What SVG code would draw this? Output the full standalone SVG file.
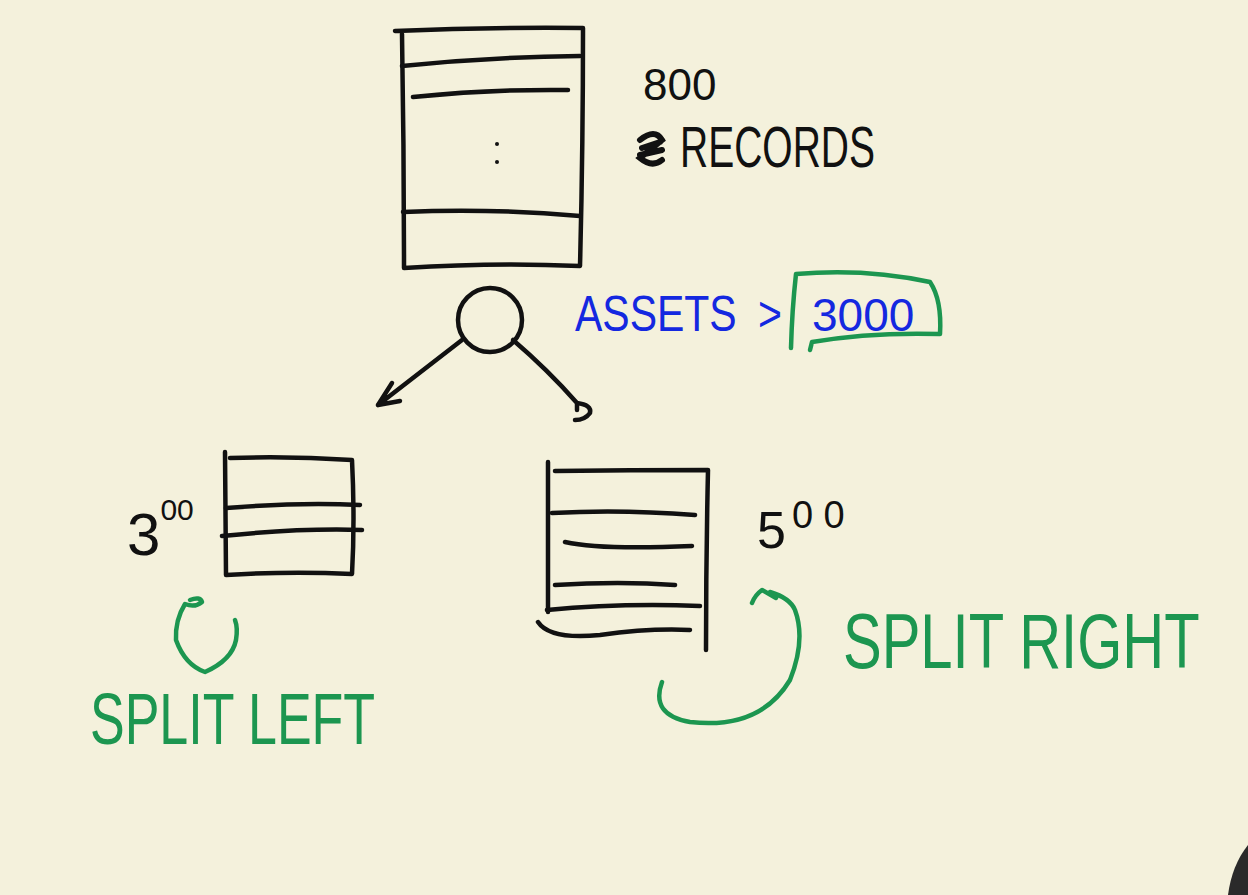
<svg xmlns="http://www.w3.org/2000/svg" width="1248" height="895" viewBox="0 0 1248 895">
<style>
.ink{fill:none;stroke:#111;stroke-width:4.5;stroke-linecap:round;stroke-linejoin:round}
.gink{fill:none;stroke:#1c9650;stroke-width:4.5;stroke-linecap:round;stroke-linejoin:round}
.bk{font-family:"Liberation Sans",Arial,sans-serif;fill:#111}
.bl{font-family:"Liberation Sans",Arial,sans-serif;fill:#1428e0}
.gr{font-family:"Liberation Sans",Arial,sans-serif;fill:#1c9650}
</style>
<rect width="1248" height="895" fill="#f4f1dc"/>
<g id="root-table">
<path class="ink" d="M395 31 Q490 27 583 28 M402 34 Q404 150 404 268 Q495 262 580 266 Q583 150 583 28"/>
<path class="ink" d="M402 66 Q490 57 580 56 M413 97 Q490 89 568 90 M403 212 Q490 208 580 216"/>
<circle cx="497" cy="144" r="2" fill="#111"/>
<circle cx="497" cy="162" r="2" fill="#111"/>
</g>
<g id="root-label">
<text class="bk" x="643" y="100" font-size="44">800</text>
<path d="M640 140 Q655 128 662 140 Q650 150 640 158 Q652 168 662 160 M642 148 L660 142 M640 155 L662 150" fill="none" stroke="#111" stroke-width="6" stroke-linecap="round"/>
<text class="bk" transform="translate(680 167) scale(1 1.45)" font-size="39">RECORDS</text>
</g>
<g id="split-node">
<circle class="ink" cx="490" cy="320" r="32"/>
</g>
<g id="condition">
<text class="bl" transform="translate(575 331) scale(1 1.2)" font-size="41">ASSETS <tspan dx="10">&gt;</tspan></text>
<text class="bl" x="812" y="331" font-size="46">3000</text>
<path class="gink" d="M791 348 Q792 310 796 274 Q865 268 930 282 Q942 300 940 334 Q870 332 812 342 L810 350"/>
</g>
<g id="connectors">
<path class="ink" d="M462 340 L378 405 M378 405 L392 383 M378 405 L400 401"/>
<path class="ink" d="M513 340 Q548 370 577 403 Q592 405 590 413 Q585 420 575 420 M577 403 L577 410"/>
</g>
<g id="left-table">
<path class="ink" d="M225 452 L226 575 Q290 571 352 574 Q355 520 352 460 Q290 456 230 458"/>
<path class="ink" d="M226 508 Q300 502 360 505 M222 536 Q300 528 362 530"/>
</g>
<g id="left-label">
<text class="bk" x="127" y="555" font-size="60">3<tspan dy="-35" font-size="30">00</tspan></text>
</g>
<g id="split-left">
<path class="gink" d="M190 600 Q200 596 202 602 Q195 608 185 604 Q175 620 176 640 Q185 665 205 672 Q232 660 236 640 Q238 628 235 620"/>
<text class="gr" transform="translate(90 744) scale(1 1.4)" font-size="52">SPLIT LEFT</text>
</g>
<g id="right-table">
<path class="ink" d="M548 462 L548 612 M555 471 Q630 470 708 470 Q706 560 706 650"/>
<path class="ink" d="M552 513 Q620 509 695 515 M565 542 Q600 550 692 546 M555 585 Q620 581 675 585 M547 610 Q620 603 700 606 M538 622 Q550 640 600 635 Q650 628 690 630"/>
</g>
<g id="right-label">
<text class="bk" x="757" y="548" font-size="52">5<tspan dy="-20" font-size="38" dx="6">0 0</tspan></text>
</g>
<g id="split-right">
<path class="gink" d="M662 682 Q650 715 690 722 Q760 730 790 680 Q806 640 795 610 Q790 598 770 592 M752 603 Q755 595 762 590 L776 598"/>
<text class="gr" transform="translate(843 668) scale(1 1.35)" font-size="58">SPLIT RIGHT</text>
</g>
<path d="M1248 845 Q1232 865 1228 895 L1248 895 Z" fill="#2a2a2a"/>
</svg>
